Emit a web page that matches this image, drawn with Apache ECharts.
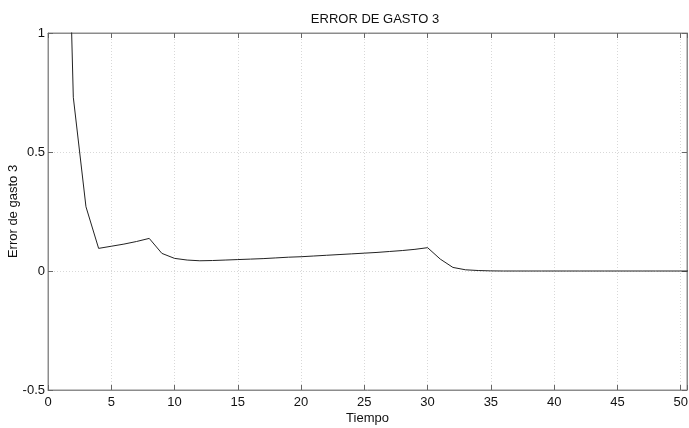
<!DOCTYPE html>
<html>
<head>
<meta charset="utf-8">
<script src="https://cdn.jsdelivr.net/npm/echarts@6/dist/echarts.min.js"></script>
<style>html,body{margin:0;padding:0;background:#fff}#c{width:689px;height:428px}</style>
</head>
<body>
<div id="c"></div>
<script>
var titleText = 'ERROR DE GASTO 3';
var xName = 'Tiempo';
var yName = 'Error de gasto 3';
var tiempo = [1,2,3,4,5,6,7,8,9,10,11,12,13,14,15,16,17,18,19,20,21,22,23,24,25,26,27,28,29,30,31,32,33,34,35,36,37,38,39,40,41,42,43,44,45,46,47,48,49,50,51];
var errorGasto = [2.8,0.73,0.27,0.095,0.104,0.113,0.124,0.137,0.074,0.053,0.046,0.043,0.044,0.046,0.048,0.050,0.052,0.055,0.058,0.060,0.063,0.066,0.069,0.072,0.075,0.078,0.082,0.086,0.091,0.098,0.05,0.015,0.005,0.002,0.0005,0,0,0,0,0,0,0,0,0,0,0,0,0,0,0,0];

var chart = echarts.init(document.getElementById('c'));
var font = 'Liberation Sans, Arial, sans-serif';
var gridLine = {show: true, lineStyle: {color: '#d8d8d8', type: [1, 2], width: 1}};
var frameLine = {show: true, onZero: false, lineStyle: {color: '#8c8c8c'}};
chart.setOption({
  animation: false,
  backgroundColor: '#fff',
  title: {text: titleText, left: 370, top: 8, textAlign: 'center',
    textStyle: {fontFamily: font, fontSize: 13, fontWeight: 'normal', color: '#111'}},
  grid: {left: 48, right: 2, top: 33, bottom: 38, show: true, borderColor: '#8c8c8c', borderWidth: 1,
    containLabel: false, outerBoundsMode: 'none'},
  xAxis: [{
    type: 'value', min: 0, max: 50.5, interval: 5, position: 'bottom',
    name: xName, nameLocation: 'middle', nameGap: 22, nameMoveOverlap: false,
    nameTextStyle: {fontFamily: font, fontSize: 13, color: '#111'},
    axisLine: frameLine,
    axisTick: {show: true, inside: true, length: 5, lineStyle: {color: '#666'}},
    axisLabel: {fontFamily: font, fontSize: 13, color: '#111', margin: 6,
      formatter: function (v) { return v % 5 === 0 ? String(v) : ''; }},
    splitLine: gridLine
  }, {
    type: 'value', min: 0, max: 50.5, interval: 5, position: 'top',
    axisLine: frameLine,
    axisTick: {show: true, inside: true, length: 5, lineStyle: {color: '#666'}},
    axisLabel: {show: false}, splitLine: {show: false}
  }],
  yAxis: [{
    type: 'value', min: -0.5, max: 1, interval: 0.5, position: 'left',
    name: yName, nameLocation: 'middle', nameGap: 28, nameRotate: 90, nameMoveOverlap: false,
    nameTextStyle: {fontFamily: font, fontSize: 13, color: '#111'},
    axisLine: frameLine,
    axisTick: {show: true, inside: true, length: 5, lineStyle: {color: '#666'}},
    axisLabel: {fontFamily: font, fontSize: 13, color: '#111', margin: 3},
    splitLine: gridLine
  }, {
    type: 'value', min: -0.5, max: 1, interval: 0.5, position: 'right',
    axisLine: frameLine,
    axisTick: {show: true, inside: true, length: 5, lineStyle: {color: '#666'}},
    axisLabel: {show: false}, splitLine: {show: false}
  }],
  series: [{
    type: 'line', xAxisIndex: 0, yAxisIndex: 0, clip: true,
    data: tiempo.map(function (t, i) { return [t, errorGasto[i]]; }),
    showSymbol: false, symbol: 'none',
    lineStyle: {color: '#222', width: 1}
  }]
});
</script>
</body>
</html>
